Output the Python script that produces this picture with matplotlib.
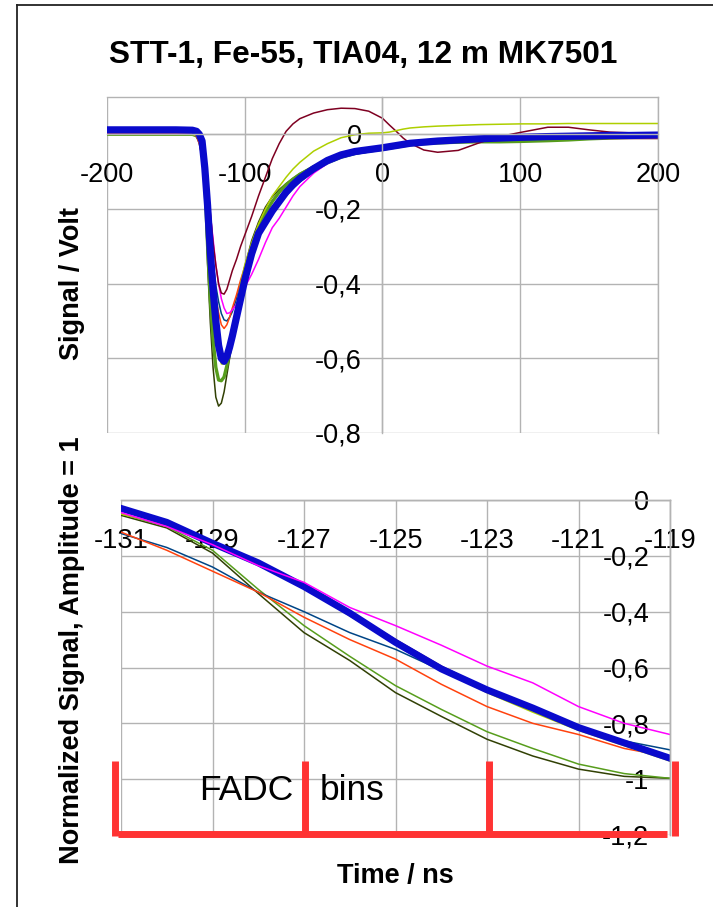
import matplotlib.pyplot as plt
from matplotlib.lines import Line2D
from matplotlib.ticker import FuncFormatter

plt.rcParams['font.family'] = ['Liberation Sans', 'DejaVu Sans']
plt.rcParams['axes.unicode_minus'] = False

# ---- overview: signal (V) vs time (ns) ----
t_top = [-200, -150, -138, -135, -133, -131, -129, -127, -125, -123,
         -121, -119, -117, -115, -113, -111, -109, -106, -103, -100,
         -95, -90, -85, -80, -75, -70, -65, -60, -50, -40,
         -30, -20, -10, 0, 5, 10, 15, 20, 30, 40,
         55, 70, 85, 100, 120, 135, 150, 165, 180, 200]

sig_olive = [0.0, 0.0, 0.0, -0.004, -0.015, -0.039, -0.135, -0.347, -0.504, -0.625,
             -0.704, -0.728, -0.72, -0.69, -0.645, -0.6, -0.555, -0.48, -0.415, -0.355,
             -0.285, -0.235, -0.195, -0.167, -0.148, -0.132, -0.118, -0.105, -0.085, -0.069,
             -0.058, -0.05, -0.045, -0.04, -0.037, -0.034, -0.031, -0.028, -0.025, -0.023,
             -0.021, -0.02, -0.02, -0.019, -0.017, -0.015, -0.012, -0.01, -0.008, -0.006]
sig_green = [0.0, 0.0, 0.0, -0.004, -0.015, -0.035, -0.122, -0.297, -0.442, -0.548,
             -0.624, -0.658, -0.66, -0.65, -0.62, -0.585, -0.55, -0.49, -0.43, -0.375,
             -0.305, -0.25, -0.21, -0.18, -0.155, -0.135, -0.12, -0.107, -0.087, -0.07,
             -0.058, -0.05, -0.045, -0.04, -0.037, -0.034, -0.031, -0.028, -0.025, -0.023,
             -0.021, -0.02, -0.02, -0.019, -0.017, -0.015, -0.012, -0.01, -0.008, -0.006]
sig_teal = [0.003, 0.003, 0.002, -0.005, -0.025, -0.06, -0.12, -0.2, -0.268, -0.343,
            -0.405, -0.448, -0.48, -0.497, -0.5, -0.49, -0.475, -0.44, -0.4, -0.365,
            -0.315, -0.275, -0.243, -0.213, -0.187, -0.165, -0.145, -0.128, -0.1, -0.079,
            -0.064, -0.054, -0.047, -0.041, -0.038, -0.035, -0.032, -0.029, -0.026, -0.023,
            -0.02, -0.018, -0.016, -0.014, -0.013, -0.012, -0.012, -0.011, -0.011, -0.011]
sig_orange = [0.003, 0.003, 0.002, -0.005, -0.025, -0.06, -0.133, -0.218, -0.296, -0.385,
              -0.437, -0.478, -0.51, -0.52, -0.51, -0.49, -0.465, -0.43, -0.39, -0.355,
              -0.305, -0.265, -0.235, -0.205, -0.18, -0.16, -0.14, -0.123, -0.097, -0.076,
              -0.062, -0.052, -0.046, -0.04, -0.037, -0.034, -0.031, -0.028, -0.025, -0.022,
              -0.02, -0.019, -0.016, -0.014, -0.012, -0.011, -0.011, -0.011, -0.011, -0.011]
sig_magenta = [0.003, 0.003, 0.002, -0.002, -0.01, -0.022, -0.075, -0.14, -0.215, -0.28,
               -0.35, -0.4, -0.44, -0.465, -0.48, -0.478, -0.47, -0.455, -0.43, -0.41,
               -0.375, -0.335, -0.29, -0.25, -0.225, -0.195, -0.165, -0.14, -0.104, -0.078,
               -0.06, -0.048, -0.042, -0.037, -0.034, -0.031, -0.028, -0.025, -0.022, -0.019,
               -0.016, -0.013, -0.011, -0.009, -0.007, -0.006, -0.005, -0.004, -0.004, -0.003]
sig_maroon = [0.005, 0.005, 0.005, 0.002, -0.005, -0.015, -0.06, -0.13, -0.21, -0.29,
              -0.35, -0.4, -0.425, -0.428, -0.415, -0.39, -0.365, -0.335, -0.3, -0.27,
              -0.22, -0.165, -0.115, -0.065, -0.025, 0.008, 0.028, 0.042, 0.057, 0.066,
              0.07, 0.069, 0.062, 0.043, 0.025, 0.008, -0.01, -0.024, -0.042, -0.048,
              -0.043, -0.023, -0.006, 0.005, 0.019, 0.019, 0.012, 0.006, 0.004, 0.003]
sig_lime = [0.0, 0.0, 0.0, -0.003, -0.01, -0.03, -0.1, -0.2, -0.32, -0.43,
            -0.51, -0.58, -0.615, -0.615, -0.595, -0.56, -0.52, -0.46, -0.4, -0.35,
            -0.29, -0.24, -0.2, -0.165, -0.14, -0.115, -0.093, -0.075, -0.045, -0.025,
            -0.009, -0.001, 0.003, 0.004, 0.006, 0.01, 0.014, 0.017, 0.02, 0.022,
            0.024, 0.026, 0.027, 0.028, 0.028, 0.029, 0.029, 0.029, 0.029, 0.029]
sig_mean = [0.012, 0.012, 0.011, 0.008, 0.0, -0.018, -0.09, -0.19, -0.315, -0.415,
            -0.5, -0.565, -0.6, -0.608, -0.595, -0.57, -0.54, -0.49, -0.44, -0.39,
            -0.32, -0.265, -0.235, -0.205, -0.18, -0.155, -0.135, -0.118, -0.092, -0.07,
            -0.055, -0.046, -0.041, -0.036, -0.033, -0.03, -0.027, -0.024, -0.021, -0.018,
            -0.015, -0.012, -0.01, -0.008, -0.006, -0.005, -0.004, -0.003, -0.003, -0.002]

# ---- zoom on leading edge, normalized to amplitude ----
t_zoom = [-131, -130, -129, -128, -127, -126, -125, -124, -123, -122, -121, -120, -119]
nrm_olive = [-0.055, -0.1, -0.19, -0.335, -0.475, -0.575, -0.69, -0.775, -0.857, -0.917, -0.964, -0.99, -0.997]
nrm_green = [-0.05, -0.095, -0.18, -0.32, -0.45, -0.56, -0.665, -0.75, -0.83, -0.89, -0.946, -0.98, -0.997]
nrm_teal = [-0.12, -0.17, -0.24, -0.33, -0.4, -0.475, -0.535, -0.61, -0.685, -0.745, -0.81, -0.863, -0.895]
nrm_orange = [-0.115, -0.18, -0.255, -0.33, -0.42, -0.5, -0.57, -0.66, -0.74, -0.8, -0.84, -0.89, -0.92]
nrm_maroon = [-0.03, -0.08, -0.15, -0.22, -0.305, -0.4, -0.5, -0.595, -0.675, -0.74, -0.81, -0.865, -0.92]
nrm_lime = [-0.05, -0.09, -0.16, -0.23, -0.315, -0.415, -0.515, -0.605, -0.69, -0.76, -0.825, -0.88, -0.935]
nrm_mean = [-0.03, -0.08, -0.155, -0.225, -0.31, -0.405, -0.51, -0.605, -0.68, -0.745, -0.815, -0.87, -0.925]
nrm_magenta = [-0.045, -0.095, -0.16, -0.235, -0.295, -0.385, -0.45, -0.52, -0.595, -0.655, -0.74, -0.8, -0.84]

# FADC bin markers (ns) drawn under the zoom
fadc_edges = [-131.13, -126.98, -122.96, -118.9]

COL = {
    "olive": "#314004", "green": "#579d1c", "teal": "#004586", "orange": "#ff420e",
    "magenta": "#ff00ff", "maroon": "#7e0021", "lime": "#aecf00", "mean": "#0a0acc",
}
GRID = "#b3b3b3"
FS = 19.5


def comma_fmt(v, pos):
    s = "%g" % v
    if s == "-0":
        s = "0"
    return s.replace(".", ",")


def style_axes(ax, xcross, ycross):
    ax.grid(True, color=GRID, lw=1.0, zorder=0)
    ax.set_axisbelow(True)
    for sp in ax.spines.values():
        sp.set_color(GRID)
        sp.set_linewidth(1.0)
    ax.spines['left'].set_position(('data', xcross))
    ax.spines['bottom'].set_position(('data', ycross))
    ax.tick_params(length=0, labelsize=FS)
    ax.tick_params(axis='x', pad=20)
    ax.tick_params(axis='y', pad=15)
    ax.yaxis.set_major_formatter(FuncFormatter(comma_fmt))
    ax.xaxis.set_major_formatter(FuncFormatter(comma_fmt))


fig = plt.figure(figsize=(7.13, 9.07), dpi=100)

# top panel
ax1 = fig.add_axes([107 / 713, 1 - 433 / 907, 551 / 713, 336 / 907])
ax1.set_xlim(-200, 200)
ax1.set_ylim(-0.8, 0.1)
ax1.set_xticks([-200, -100, 0, 100, 200])
ax1.set_yticks([0, -0.2, -0.4, -0.6, -0.8])
style_axes(ax1, 0, 0)
ax1.plot(t_top, sig_olive, color=COL["olive"], lw=1.1)
ax1.plot(t_top, sig_green, color=COL["green"], lw=2.4)
ax1.plot(t_top, sig_teal, color=COL["teal"], lw=1.1)
ax1.plot(t_top, sig_orange, color=COL["orange"], lw=1.1)
ax1.plot(t_top, sig_magenta, color=COL["magenta"], lw=1.1)
ax1.plot(t_top, sig_maroon, color=COL["maroon"], lw=1.1)
ax1.plot(t_top, sig_lime, color=COL["lime"], lw=1.1)
ax1.plot(t_top, sig_mean, color=COL["mean"], lw=5.2)

# bottom panel
ax2 = fig.add_axes([121 / 713, 1 - 835 / 907, 549 / 713, 335 / 907])
ax2.set_xlim(-131, -119)
ax2.set_ylim(-1.2, 0)
ax2.set_xticks(list(range(-131, -118, 2)))
ax2.set_yticks([0, -0.2, -0.4, -0.6, -0.8, -1.0, -1.2])
style_axes(ax2, -119, 0)
ax2.plot(t_zoom, nrm_olive, color=COL["olive"], lw=1.1)
ax2.plot(t_zoom, nrm_green, color=COL["green"], lw=1.1)
ax2.plot(t_zoom, nrm_teal, color=COL["teal"], lw=1.1)
ax2.plot(t_zoom, nrm_orange, color=COL["orange"], lw=1.1)
ax2.plot(t_zoom, nrm_maroon, color=COL["maroon"], lw=1.1)
ax2.plot(t_zoom, nrm_lime, color=COL["lime"], lw=1.1)
ax2.plot(t_zoom, nrm_mean, color=COL["mean"], lw=5)
ax2.plot(t_zoom, nrm_magenta, color=COL["magenta"], lw=1.1)

red = "#ff3333"
ax2.plot([fadc_edges[0] + 0.06, fadc_edges[-1] - 0.17], [-1.196, -1.196],
         color=red, lw=5, solid_capstyle='butt', clip_on=False, zorder=5)
for e in fadc_edges:
    ax2.plot([e, e], [-0.935, -1.205], color=red, lw=5,
             solid_capstyle='butt', clip_on=False, zorder=5)
ax2.text(-128.27, -1.04, "FADC", fontsize=25.5, ha='center', va='center')
ax2.text(-125.95, -1.04, "bins", fontsize=25.5, ha='center', va='center')

# titles
fig.text(363 / 713, 1 - 55 / 907, "STT-1, Fe-55, TIA04, 12 m MK7501",
         fontsize=22.8, weight='bold', ha='center', va='center')
fig.text(72 / 713, 1 - 284 / 907, "Signal / Volt", fontsize=FS, weight='bold',
         rotation=90, ha='center', va='center')
fig.text(72 / 713, 1 - 650 / 907, "Normalized Signal, Amplitude = 1", fontsize=FS,
         weight='bold', rotation=90, ha='center', va='center')
fig.text(395 / 713, 1 - 876 / 907, "Time / ns", fontsize=FS, weight='bold',
         ha='center', va='center')

# frame lines at left and top
fig.add_artist(Line2D([17 / 713, 17 / 713], [0, 1 - 5 / 907], color="#222222", lw=1.3))
fig.add_artist(Line2D([17 / 713, 1], [1 - 5 / 907, 1 - 5 / 907], color="#222222", lw=1.3))

fig.savefig("out.png", dpi=100)
